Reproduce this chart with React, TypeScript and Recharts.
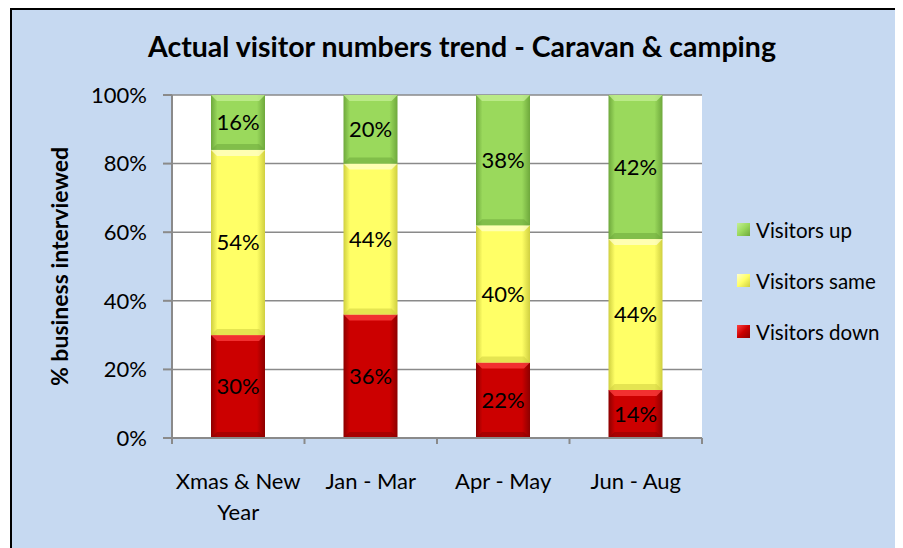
import { BarChart, Bar, XAxis, YAxis, CartesianGrid, LabelList, Text } from 'recharts'

const periods = ['Xmas & New Year', 'Jan - Mar', 'Apr - May', 'Jun - Aug']
const visitorsDown = [30, 36, 22, 14]
const visitorsSame = [54, 44, 40, 44]
const visitorsUp = [16, 20, 38, 42]
const yTicks = [0, 20, 40, 60, 80, 100]

const FONT = 'Lato, "Open Sans", sans-serif'
const AXIS = '#8a8a8a'

// bottom to top, as stacked
const series = [
  { key: 'down', name: 'Visitors down', values: visitorsDown },
  { key: 'same', name: 'Visitors same', values: visitorsSame },
  { key: 'up', name: 'Visitors up', values: visitorsUp }
]

const tones: Record<string, { base: string; light: string; dark: string }> = {
  down: { base: '#cc0000', light: '#ff4040', dark: '#8c0000' },
  same: { base: '#ffff66', light: '#ffffcc', dark: '#cfcf40' },
  up: { base: '#9ad95c', light: '#c4ef96', dark: '#6ea83c' }
}

const data = periods.map((period, i) => {
  const row: Record<string, string | number> = { period }
  series.forEach((s) => (row[s.key] = s.values[i]))
  return row
})

function GlassBar(props: any) {
  const { x, y, width, height, tone } = props
  if (!height || height <= 0) return null
  const t = tones[tone]
  const b = Math.min(6, height / 4)
  return (
    <g>
      <rect x={x} y={y} width={width} height={height} fill={`url(#grad-${tone})`} />
      <polygon
        points={`${x},${y} ${x + width},${y} ${x + width - b},${y + b} ${x + b},${y + b}`}
        fill={t.light}
        opacity={0.75}
      />
      <polygon
        points={`${x},${y + height} ${x + width},${y + height} ${x + width - b},${y + height - b} ${x + b},${y + height - b}`}
        fill={t.dark}
        opacity={0.55}
      />
    </g>
  )
}

function CategoryTick(props: any) {
  const { x, y, payload, index, visibleTicksCount } = props
  const half = payload.offset ?? 0
  const last = index === visibleTicksCount - 1
  return (
    <g>
      <line x1={x - half} x2={x - half} y1={y} y2={y + 6} stroke={AXIS} strokeWidth={2} />
      {last && <line x1={x + half} x2={x + half} y1={y} y2={y + 6} stroke={AXIS} strokeWidth={2} />}
      <Text
        x={x}
        y={y + 35}
        width={112}
        textAnchor="middle"
        verticalAnchor="start"
        lineHeight={31}
        fontSize={22}
        fontFamily={FONT}
        fill="#000"
      >
        {payload.value}
      </Text>
    </g>
  )
}

function YTitle(props: any) {
  const { viewBox } = props
  const cx = 47
  const cy = viewBox.y + viewBox.height / 2
  return (
    <text
      x={cx}
      y={cy}
      transform={`rotate(-90 ${cx} ${cy})`}
      textAnchor="middle"
      dominantBaseline="central"
      fontFamily={FONT}
      fontWeight={700}
      fontSize={23}
      fill="#000"
    >
      % business interviewed
    </text>
  )
}

export default function App() {
  return (
    <div
      style={{
        position: 'relative',
        marginLeft: 2,
        width: 893,
        height: 540,
        boxSizing: 'border-box',
        borderLeft: '2px solid #000',
        borderTop: '2px solid #000',
        background: '#c6d9f1',
        fontFamily: FONT,
        overflow: 'hidden'
      }}
    >
      <div
        style={{
          position: 'absolute',
          left: 0,
          top: 19,
          width: 900,
          textAlign: 'center',
          fontWeight: 700,
          fontSize: 28.5,
          color: '#000'
        }}
      >
        Actual visitor numbers trend - Caravan &amp; camping
      </div>

      <BarChart
        width={891}
        height={538}
        data={data}
        margin={{ top: 85, right: 201, bottom: 0, left: 0 }}
        barSize={54}
      >
        <defs>
          {Object.keys(tones).map((k) => (
            <linearGradient key={k} id={`grad-${k}`} x1="0" y1="0" x2="1" y2="0">
              <stop offset="0%" stopColor={tones[k].dark} />
              <stop offset="12%" stopColor={tones[k].base} />
              <stop offset="85%" stopColor={tones[k].base} />
              <stop offset="100%" stopColor={tones[k].dark} />
            </linearGradient>
          ))}
        </defs>
        <CartesianGrid vertical={false} stroke={AXIS} strokeWidth={1.5} fill="#ffffff" />
        <XAxis
          dataKey="period"
          height={110}
          axisLine={{ stroke: AXIS, strokeWidth: 2 }}
          tickLine={false}
          tickSize={0}
          tickMargin={0}
          interval={0}
          tick={<CategoryTick />}
        />
        <YAxis
          width={160}
          domain={[0, 100]}
          ticks={yTicks}
          tickFormatter={(v) => `${v}%`}
          axisLine={{ stroke: AXIS, strokeWidth: 2 }}
          tickLine={{ stroke: AXIS, strokeWidth: 2 }}
          tickSize={9}
          tickMargin={16}
          tick={{ fill: '#000', fontSize: 22, fontFamily: FONT }}
          label={{ content: <YTitle /> }}
        />
        {series.map((s) => (
          <Bar
            key={s.key}
            dataKey={s.key}
            name={s.name}
            stackId="a"
            isAnimationActive={false}
            shape={(p: any) => <GlassBar {...p} tone={s.key} />}
          >
            <LabelList
              dataKey={s.key}
              position="center"
              formatter={(v: any) => `${v}%`}
              fill="#000"
              fontSize={22}
              fontFamily={FONT}
            />
          </Bar>
        ))}
      </BarChart>

      <div style={{ position: 'absolute', left: 725, top: 194 }}>
        {[...series].reverse().map((s) => (
          <div key={s.key} style={{ display: 'flex', alignItems: 'center', height: 51 }}>
            <span
              style={{
                display: 'inline-block',
                width: 13,
                height: 13,
                marginRight: 6,
                background: `linear-gradient(135deg, ${tones[s.key].light}, ${tones[s.key].base} 50%, ${tones[s.key].dark})`
              }}
            />
            <span style={{ fontSize: 20.5, color: '#000' }}>{s.name}</span>
          </div>
        ))}
      </div>
    </div>
  )
}
